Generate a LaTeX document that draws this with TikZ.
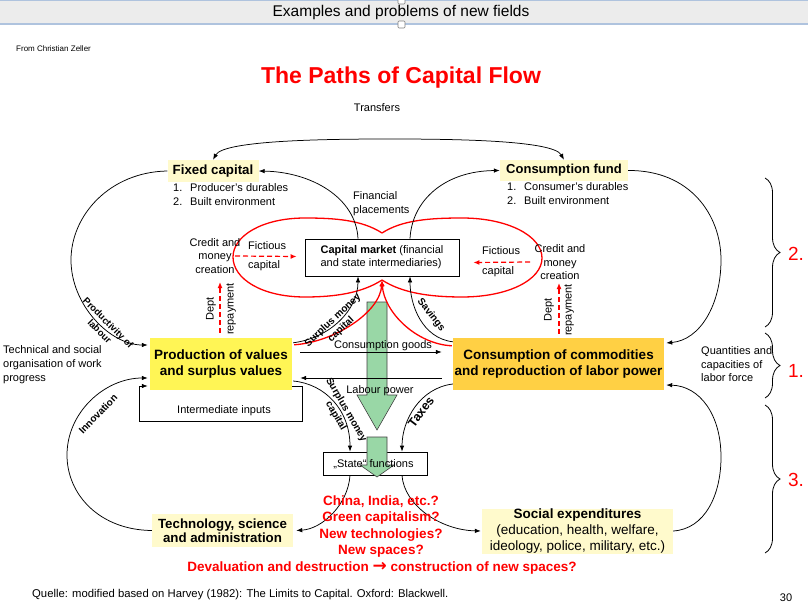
\documentclass[tikz,border=0pt]{standalone}
\usepackage{fontspec}
\setmainfont{Liberation Sans}
\newfontfamily\djvfont{DejaVu Sans}
\usetikzlibrary{arrows.meta,decorations.pathreplacing,calc}
\definecolor{lyel}{RGB}{255,250,204}
\definecolor{pyel}{RGB}{255,245,85}
\definecolor{cyel}{RGB}{255,208,68}
\definecolor{rred}{RGB}{255,0,0}
\definecolor{gfill}{RGB}{153,215,166}
\definecolor{hdr}{RGB}{236,236,236}
\definecolor{hline}{RGB}{175,195,222}
\newcommand\fsz[2]{\fontsize{#1}{#2}\selectfont}
\begin{document}
\begin{tikzpicture}[x=1pt,y=-1pt,
  >={Latex[length=6pt,width=4.5pt]},
  txt/.style={font=\fsz{11}{13.5}, inner sep=0pt},
  conn/.style={draw=black, line width=0.75pt},
  redc/.style={draw=rred, line width=1.3pt, -{Latex[length=6pt,width=5pt]}},
  reddash/.style={draw=rred, line width=1.2pt, dash pattern=on 5pt off 3pt, -{Latex[length=6pt,width=5pt]}},
  lybox/.style={fill=lyel, inner sep=0pt, font=\fsz{13.3}{14.5}\bfseries, align=center},
  arclbl/.style={inner sep=0pt, font=\fsz{10}{12}\bfseries, align=center},
  brc/.style={draw=black, line width=0.8pt, decorate, decoration={brace, amplitude=15pt}},
  num/.style={text=rred, font=\fsz{19}{21}, inner sep=0pt}]
\useasboundingbox (0,0) rectangle (808,612);
\fill[white] (0,0) rectangle (808,612);
% header
\fill[hdr] (0,0) rectangle (808,24);
\draw[hline, line width=1pt] (0,0.5) -- (808,0.5);
\draw[hline, line width=1.2pt] (0,24) -- (808,24);
\draw[draw=gray, fill=white, rounded corners=1pt, line width=0.6pt] (398,-2) rectangle (405,4);
\draw[draw=gray, fill=white, rounded corners=1pt, line width=0.6pt] (398,21) rectangle (405,28);
\node[font=\fsz{15.5}{17}, inner sep=0pt] (header) at (401,12) {Examples and problems of new fields};
\node[anchor=west, font=\fsz{8}{9}, inner sep=0pt] (from) at (16,49) {From Christian Zeller};
\node[font=\fsz{23}{26}\bfseries, text=rred, inner sep=0pt] (title) at (401,78) {The Paths of Capital Flow};
\node[txt] (transfers) at (377,108) {Transfers};

% red lobes
\draw[rred, line width=1.3pt] (382,233) .. controls (362,220) and (335,218) .. (305,218)
  .. controls (262,218) and (233,236) .. (233,257) .. controls (233,279) and (262,297) .. (305,297)
  .. controls (335,297) and (362,293) .. (382,280);
\draw[rred, line width=1.3pt] (382,233) .. controls (402,220) and (430,218) .. (462,218)
  .. controls (508,218) and (542,236) .. (542,258) .. controls (542,280) and (508,297) .. (462,297)
  .. controls (430,297) and (402,293) .. (382,280);

% boxes
\node[lybox, minimum width=91pt, minimum height=22pt] (fixed) at (213,171) {Fixed capital};
\node[lybox, minimum width=128pt, minimum height=21pt, font=\fsz{13}{14.5}\bfseries] (cfund) at (564,170.5) {Consumption fund};
\node[txt, align=left, anchor=west, font=\fsz{11}{14}] (fixlist) at (173,195) {\makebox[17pt][l]{1.}Producer's durables\\\makebox[17pt][l]{2.}Built environment};
\node[txt, align=left, anchor=west, font=\fsz{11}{14}] (cflist) at (507,194) {\makebox[17pt][l]{1.}Consumer's durables\\\makebox[17pt][l]{2.}Built environment};
\node[draw, fill=white, line width=0.75pt, minimum width=154pt, minimum height=37pt, inner sep=0pt, align=left, font=\fsz{11}{13}] (capm) at (382,257.5) {\textbf{Capital market} (financial\\and state intermediaries)};
\node[txt, align=left, anchor=west, font=\fsz{11}{14}] (finpl) at (353,204) {Financial\\placements};
\node[txt, align=center] (credL) at (215,256) {Credit and\\money\\creation};
\node[txt, align=left, anchor=west, font=\fsz{11}{19}] (fictL) at (248,256.5) {Fictious\\capital};
\node[txt, align=left, anchor=west, font=\fsz{11}{20}] (fictR) at (482,262) {Fictious\\capital};
\node[txt, align=center] (credR) at (560,262.5) {Credit and\\money\\creation};
\node[txt, rotate=90, align=center, font=\fsz{11}{20}] (deptL) at (221,309) {Dept\\repayment};
\node[txt, rotate=90, align=center, font=\fsz{11}{20}] (deptR) at (559,310) {Dept\\repayment};

\node[fill=pyel, minimum width=142pt, minimum height=52pt, inner sep=0pt, align=center, font=\fsz{13.5}{16}\bfseries] (prod) at (221,364) {Production of values\\and surplus values};
\node[fill=cyel, minimum width=211pt, minimum height=52pt, inner sep=0pt, align=center, font=\fsz{13.5}{16}\bfseries] (cons) at (558.5,364) {Consumption of commodities\\and reproduction of labor power};

\node[draw, fill=white, line width=0.75pt, minimum width=104pt, minimum height=23pt, inner sep=0pt] (state) at (375,463.5) {};
\node[lybox, minimum width=141pt, minimum height=33pt] (tech) at (222.5,530.5) {Technology, science\\and administration};
\node[lybox, minimum width=191pt, minimum height=45pt, font=\fsz{13.5}{16}] (social) at (577.5,531) {\textbf{Social expenditures}\\(education, health, welfare,\\ideology, police, military, etc.)};

% green arrows
\draw[fill=gfill, draw=black!75, line width=0.6pt] (367,302) -- (387,302) -- (387,395) -- (397,395) -- (377,430) -- (357,395) -- (367,395) -- cycle;
\draw[fill=gfill, draw=black!75, line width=0.6pt] (367,437) -- (387,437) -- (387,465) -- (394,465) -- (377,477) -- (360,465) -- (367,465) -- cycle;
\node[txt] (statetxt) at (373.5,464) {„State“ functions};

% dashed red arrows
\draw[reddash] (235,256) -- ($(capm.west)+(-8,-1)$);
\draw[reddash] (530,262) -- ($(capm.east)+(14,5)$);
\draw[reddash] ($(prod.north)+(-1,-5)$) -- (220,282);
\draw[reddash] ($(cons.north)+(0.5,-4)$) -- (559,283);

% red flows into capital market
\draw[redc] ($(prod.north east)+(2,7)$) .. controls (335,342) and (380,312) .. ($(capm.south)+(0,4)$);
\draw[redc] ($(cons.north west)+(-1,8)$) .. controls (416,344) and (384,312) .. ($(capm.south)+(0,4)$);

% black connectors
\draw[conn,<->] (fixed.north) .. controls (224,140) and (330,139) .. (390,139) .. controls (450,139) and (553,140) .. (cfund.north);
\draw[conn,->] (fixed.west) .. controls (110,172) and (71,215) .. (71,260) .. controls (71,305) and (110,345) .. ($(prod.west)+(-2,-19)$);
\draw[conn,->] (tech.west) .. controls (100,530) and (67,495) .. (67,455) .. controls (67,412) and (105,378) .. ($(prod.west)+(-2,14)$);
\draw[conn,->] ($(capm.north)+(-24,0)$) .. controls (356,198) and (312,172) .. (fixed.east);
\draw[conn,->] ($(capm.north)+(28,0)$) .. controls (412,200) and (445,171) .. (cfund.west);
\draw[conn,->] (cfund.east) .. controls (690,170) and (721,215) .. (721,260) .. controls (721,305) and (700,340) .. ($(cons.east)+(2,-21)$);
\draw[conn,->] (social.east) .. controls (705,529) and (721,495) .. (721,457) .. controls (721,415) and (700,386) .. ($(cons.east)+(2,21)$);
\draw[conn,->] ($(prod.north east)+(1,5)$) .. controls (330,338) and (358,310) .. ($(capm.south)+(-24,0)$);
\draw[conn,->] ($(cons.north west)+(0,4)$) .. controls (422,338) and (410,305) .. ($(capm.south)+(28,0)$);
\draw[conn,->] ($(prod.east)+(8,-12)$) -- ($(cons.west)+(-11,-12)$);
\draw[conn,->] ($(cons.west)+(-11,14)$) -- ($(prod.east)+(8,14)$);
\draw[conn,->] ($(prod.east)+(0,22)$) -- (302,386) -- (302,421) -- (139,421) -- (139,386) -- ($(prod.west)+(-2,22)$);
\draw[conn,->] ($(prod.east)+(1,17)$) .. controls (325,384) and (350,410) .. ($(state.north)+(-25,0)$);
\draw[conn,->] ($(cons.west)+(0,20)$) .. controls (420,388) and (402,420) .. ($(state.north)+(27,0)$);
\draw[conn,->] ($(state.south)+(-25,0)$) .. controls (348,505) and (322,529) .. ($(tech.east)+(3,0)$);
\draw[conn,->] ($(state.south)+(27,0)$) .. controls (404,505) and (440,530) .. ($(social.west)+(-1,0)$);

% labels
\node[txt] (cglbl) at (383,346) {Consumption goods};
\node[txt] (lplbl) at (380,391) {Labour power};
\node[txt] (interlbl) at (224,411) {Intermediate inputs};
\node[arclbl, rotate=-45, font=\fsz{9.5}{12}\bfseries] (prodlab) at (104,327) {Productivity of\\labour};
\node[arclbl, rotate=46] (innov) at (98,414) {Innovation};
\node[arclbl, rotate=43] (sm1) at (337,325) {Surplus money\\capital};
\node[arclbl, rotate=-60] (sm2) at (341,413) {Surplus money\\capital};
\node[arclbl, rotate=-52] (savings) at (431,315) {Savings};
\node[arclbl, rotate=53, font=\fsz{12.5}{14}\bfseries] (taxes) at (421,412) {Taxes};
\node[txt, anchor=west, align=left, font=\fsz{11}{14}] (techsoc) at (3,365) {Technical and social\\organisation of work\\progress};
\node[txt, anchor=west, align=left, font=\fsz{11}{13.5}] (quant) at (701,364.5) {Quantities and\\capacities of\\labor force};

% red questions
\node[inner sep=0pt, align=center, text=rred, font=\fsz{13.5}{16.4}\bfseries] (questions) at (381,526.5) {China, India, etc.?\\Green capitalism?\\New technologies?\\New spaces?};
\node[inner sep=0pt, text=rred, font=\fsz{13.5}{16}\bfseries] (deval) at (382,568) {Devaluation and destruction {\djvfont\bfseries\fontsize{17}{16}\selectfont\raisebox{-0.5pt}{→}} construction of new spaces?};

% braces
\draw[brc] (765,178) -- (765,327);
\draw[brc] (765,333) -- (765,398);
\draw[brc] (765,405) -- (765,553);
\node[num] (n2) at (796,254) {2.};
\node[num] (n1) at (796,371) {1.};
\node[num] (n3) at (796,480) {3.};

% footer
\node[txt, anchor=west, font=\fsz{11.3}{13}] (src) at (32,595) {Quelle: modified based on Harvey (1982): The Limits to Capital. Oxford: Blackwell.};
\node[txt] (page) at (786,598) {30};
\end{tikzpicture}
\end{document}
